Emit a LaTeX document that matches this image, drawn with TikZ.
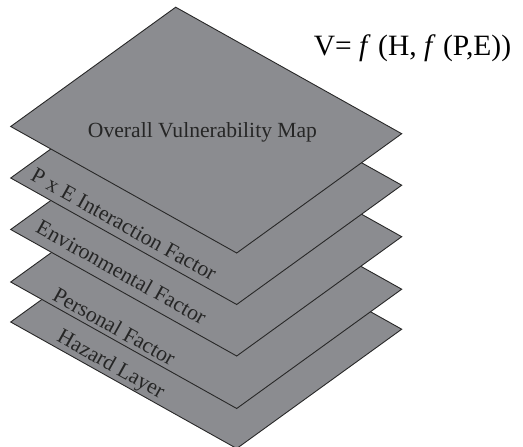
\documentclass[tikz,border=0pt]{standalone}
\usepackage{fontspec}
\setmainfont{Liberation Serif}
\definecolor{layergray}{RGB}{139,140,144}
\definecolor{edgegray}{RGB}{40,40,40}
\definecolor{textgray}{RGB}{38,38,38}
\begin{document}
\begin{tikzpicture}[x=1pt,y=-1pt,
  layerbox/.style={fill=layergray, draw=edgegray, line width=0.9pt, line join=miter},
  lbl/.style={font=\fontsize{21.8}{21.8}\selectfont, text=textgray, rotate=-29.2, inner sep=0pt},
  toplbl/.style={font=\fontsize{21.6}{21.6}\selectfont, text=textgray, inner sep=0pt, anchor=base},
  formula/.style={font=\fontsize{29.5}{29.5}\selectfont, text=black, inner sep=0pt, anchor=base}]
\useasboundingbox (0,0) rectangle (523,447);
% Hazard layer
\draw[layerbox] (10.7,322) -- ++(226,126.5) -- ++(165,-119.3) -- ++(-226,-126.5) -- cycle;
\node[lbl] (haz) at (110.5,365.5) {Hazard Layer};
% Personal factor
\draw[layerbox] (10.7,282) -- ++(226,126.5) -- ++(165,-119.3) -- ++(-226,-126.5) -- cycle;
\node[lbl] (pers) at (114.5,326.5) {Personal Factor};
% Environmental factor
\draw[layerbox] (10.7,229.5) -- ++(226,126.5) -- ++(165,-119.3) -- ++(-226,-126.5) -- cycle;
\node[lbl] (env) at (121.5,272) {Environmental Factor};
% PxE interaction
\draw[layerbox] (10.7,178) -- ++(226,126.5) -- ++(165,-119.3) -- ++(-226,-126.5) -- cycle;
\node[lbl] (pxe) at (124,224.5) {P x E Interaction Factor};
% Overall
\draw[layerbox] (10.7,126.5) -- ++(226,126.5) -- ++(165,-119.3) -- ++(-226,-126.5) -- cycle;
\node[toplbl] (ovr) at (202.5,137) {Overall Vulnerability Map};
\node[formula] (form) at (412.5,55) {V= \textit{f} (H, \textit{f} (P,E))};
\end{tikzpicture}
\end{document}
